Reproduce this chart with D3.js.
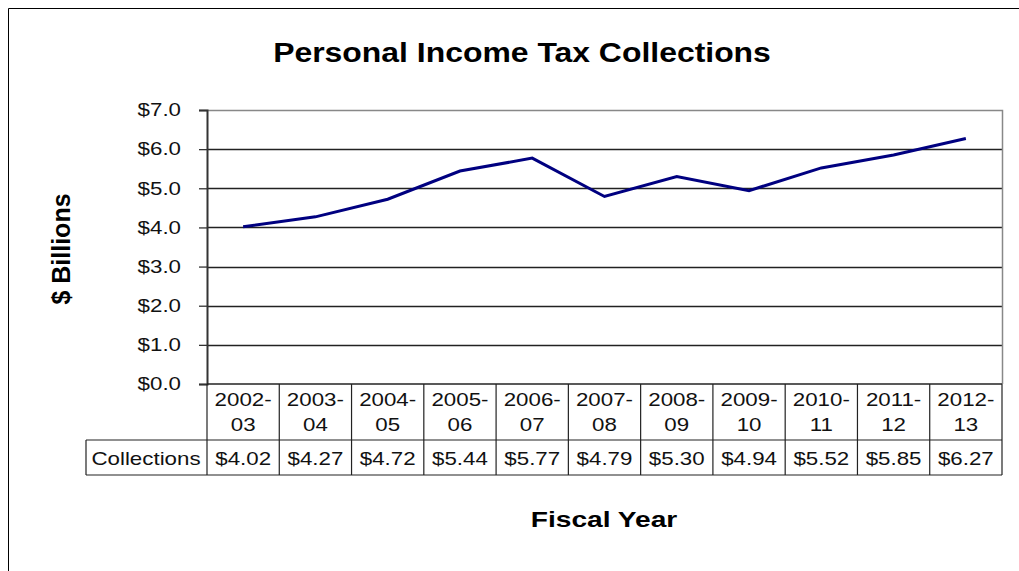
<!DOCTYPE html>
<html>
<head>
<meta charset="utf-8">
<script src="https://cdn.jsdelivr.net/npm/d3@7"></script>
<style>
  html, body { margin: 0; padding: 0; background: #fff; }
  svg { display: block; font-family: "Liberation Sans", Arial, sans-serif; }
</style>
</head>
<body>
<svg id="chart" width="1019" height="571"></svg>
<script>
const fiscalYears = ["2002-03","2003-04","2004-05","2005-06","2006-07","2007-08","2008-09","2009-10","2010-11","2011-12","2012-13"];
const collections = [4.02, 4.27, 4.72, 5.44, 5.77, 4.79, 5.30, 4.94, 5.52, 5.85, 6.27];
const yTicks = [0, 1, 2, 3, 4, 5, 6, 7];
const titleText = "Personal Income Tax Collections";
const yTitle = "$ Billions";
const xTitle = "Fiscal Year";
const rowLabel = "Collections";

const svg = d3.select("#chart");
const L = 207, R = 1002, T = 110, B = 384;
const hdrB = 440, rowB = 475, labelL = 86;
const SX = 1.24; // horizontal stretch of body text

// outer frame
svg.append("path")
  .attr("d", "M8.5,580V8.5H1030")
  .attr("fill", "none").attr("stroke", "#000").attr("stroke-width", 1);

const x = d3.scaleBand().domain(fiscalYears).range([L, R]);
const y = d3.scaleLinear().domain([0, 7]).range([B, T]);

// gridlines
svg.append("g").selectAll("line").data(yTicks.filter(d => d > 0 && d < 7)).join("line")
  .attr("x1", L).attr("x2", R)
  .attr("y1", d => Math.round(y(d)) + 0.5).attr("y2", d => Math.round(y(d)) + 0.5)
  .attr("stroke", "#222").attr("stroke-width", 1.3);

// plot frame top/right gray
svg.append("path")
  .attr("d", `M${L},${Math.round(y(7)) + 0.5}H${R + 0.5}V${B}`)
  .attr("fill", "none").attr("stroke", "#888").attr("stroke-width", 1.5);

// y axis
const yAxis = d3.axisLeft(y).tickValues(yTicks).tickSize(8).tickPadding(18)
  .tickFormat(d => "$" + d.toFixed(1));
const ga = svg.append("g").attr("transform", `translate(${L},0)`).call(yAxis);
ga.select(".domain").attr("stroke", "#333").attr("stroke-width", 2);
ga.selectAll(".tick line").attr("stroke", "#333").attr("stroke-width", 1.3);
ga.selectAll(".tick text").attr("font-size", 18).attr("fill", "#111")
  .attr("font-family", "'Liberation Sans', Arial, sans-serif")
  .attr("x", 0).attr("transform", `translate(-26,0) scale(${SX},1)`);

// table
const tbl = svg.append("g");
const stroke = "#222";
tbl.append("line").attr("x1", L).attr("x2", R).attr("y1", B).attr("y2", B).attr("stroke", stroke).attr("stroke-width", 1.5);
tbl.append("line").attr("x1", labelL).attr("x2", R).attr("y1", hdrB).attr("y2", hdrB).attr("stroke", stroke).attr("stroke-width", 1.2);
tbl.append("line").attr("x1", labelL).attr("x2", R).attr("y1", rowB).attr("y2", rowB).attr("stroke", stroke).attr("stroke-width", 1.2);
tbl.append("line").attr("x1", labelL).attr("x2", labelL).attr("y1", hdrB).attr("y2", rowB).attr("stroke", stroke).attr("stroke-width", 1.2);
const bounds = fiscalYears.map(d => x(d)).concat([R]);
tbl.selectAll("line.v").data(bounds).join("line").attr("class", "v")
  .attr("x1", d => d).attr("x2", d => d).attr("y1", B).attr("y2", rowB)
  .attr("stroke", stroke).attr("stroke-width", 1.2);

const cx = d => x(d) + x.bandwidth() / 2;
function stretchText(sel, px, py) {
  sel.attr("transform", (d, i) => `translate(${px(d, i)},${py}) scale(${SX},1)`)
    .attr("text-anchor", "middle").attr("font-size", 18).attr("fill", "#111");
}
tbl.selectAll("text.h1").data(fiscalYears).join("text").attr("class", "h1")
  .call(stretchText, cx, 406).text(d => d.split("-")[0] + "-");
tbl.selectAll("text.h2").data(fiscalYears).join("text").attr("class", "h2")
  .call(stretchText, cx, 431).text(d => d.split("-")[1]);
tbl.selectAll("text.v").data(collections).join("text").attr("class", "v")
  .call(stretchText, (d, i) => cx(fiscalYears[i]), 465).text(d => "$" + d.toFixed(2));
tbl.append("text").datum(rowLabel)
  .call(stretchText, () => (labelL + L) / 2 - 0.5, 465).text(d => d);

// line
const line = d3.line().x((d, i) => cx(fiscalYears[i])).y(d => y(d));
svg.append("path").datum(collections).attr("d", line)
  .attr("fill", "none").attr("stroke", "#000080").attr("stroke-width", 3).attr("stroke-linejoin", "miter");

// titles
svg.append("text").attr("transform", "translate(522,62) scale(1.14,1)").attr("text-anchor", "middle")
  .attr("font-size", 28).attr("font-weight", "bold").text(titleText);
svg.append("text").attr("transform", "translate(70,249) rotate(-90)").attr("text-anchor", "middle")
  .attr("font-size", 25).attr("font-weight", "bold").text(yTitle);
svg.append("text").attr("transform", "translate(604,527) scale(1.28,1)").attr("text-anchor", "middle")
  .attr("font-size", 22).attr("font-weight", "bold").text(xTitle);
</script>
</body>
</html>
